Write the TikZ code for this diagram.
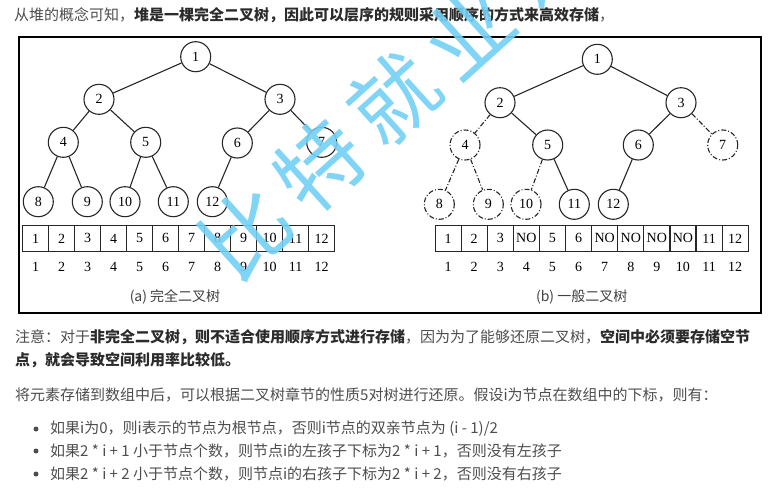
\documentclass[tikz,border=0pt]{standalone}
\usepackage{fontspec}
\setmainfont{Liberation Serif}
\newfontfamily\cjk{Noto Sans CJK SC}
\usetikzlibrary{positioning}

\definecolor{textgray}{HTML}{4D4D4D}
\definecolor{boldgray}{HTML}{2B2B2B}
\definecolor{markblue}{HTML}{72CFF5}
\newcommand{\negrita}[1]{\textbf{\color{boldgray}#1}}

\begin{document}
\begin{tikzpicture}[x=1pt, y=-1pt, font=\fontsize{14}{16}\selectfont]
    % --- Estilos ---
    \tikzset{
        treenode/.style={circle, draw=black!85, line width=1.1pt, minimum size=30pt, inner sep=0pt},
        ghostnode/.style={treenode, dash pattern=on 5pt off 2pt on 1pt off 2pt},
        edge/.style={draw=black!85, line width=1.1pt},
        ghostedge/.style={edge, dash pattern=on 5pt off 2pt on 1pt off 2pt},
        cell/.style={draw=black!85, line width=1.1pt, minimum width=26pt, minimum height=26.5pt, inner sep=0pt},
        idx/.style={inner sep=0pt},
        caption/.style={font=\cjk\fontsize{14}{16}\selectfont, text=black!75},
        para/.style={anchor=west, inner sep=0pt, font=\cjk\fontsize{15}{18}\selectfont, text=textgray},
        dot/.style={circle, fill=textgray, inner sep=0pt, minimum size=5pt},
        watermark/.style={font=\cjk\fontsize{86}{86}\selectfont, text=markblue, opacity=0.9, rotate=42}
    }
    \useasboundingbox (0,0) rectangle (771,499);
    \clip (0,0) rectangle (771,499);

    % --- Texto superior ---
    \node[para] (t1) at (14,15) {从堆的概念可知，\negrita{堆是一棵完全二叉树，因此可以层序的规则采用顺序的方式来高效存储}，};

    % --- Marco de la figura ---
    \draw[line width=1.2pt] (19,37) rectangle (761,313);

    % --- Árbol (a): completo ---
    \foreach \n/\x/\y in {1/195.7/56.7, 2/99/99.3, 3/280/99.3, 4/63.3/142.3, 5/145.7/142.3,
        6/237.3/143, 7/321.7/142.3, 8/38.3/201.7, 9/87.3/201.7, 10/125/201.7, 11/173.3/201.7, 12/212.3/201.7}
        \node[treenode] (a\n) at (\x,\y) {\n};
    \foreach \p/\c in {1/2, 1/3, 2/4, 2/5, 3/6, 3/7, 4/8, 4/9, 5/10, 5/11, 6/12}
        \draw[edge] (a\p) -- (a\c);

    % Arreglo (a) e índices
    \foreach \v [count=\i] in {1,...,12} {
        \node[cell] (ca\i) at ({9.7+26*\i}, 238.4) {\v};
        \node[idx, below=10pt of ca\i] {\i};
    }
    \node[caption] (capa) at (175,296.7) {(a) 完全二叉树};

    % --- Árbol (b): general ---
    \foreach \n/\x/\y/\s in {1/597.3/59.3/treenode, 2/500/102.7/treenode, 3/681/102.7/treenode,
        4/465/145/ghostnode, 5/547.7/145/treenode, 6/638.3/145/treenode, 7/722.7/145/ghostnode,
        8/439.3/204.3/ghostnode, 9/488.3/204.3/ghostnode, 10/526/204.3/ghostnode,
        11/574.3/204.3/treenode, 12/613.3/204.3/treenode}
        \node[\s] (b\n) at (\x,\y) {\n};
    \foreach \p/\c/\s in {1/2/edge, 1/3/edge, 2/4/ghostedge, 2/5/edge, 3/6/edge, 3/7/ghostedge,
        4/8/ghostedge, 4/9/ghostedge, 5/10/ghostedge, 5/11/edge, 6/12/edge}
        \draw[\s] (b\p) -- (b\c);

    % Arreglo (b) e índices
    \foreach \v [count=\i] in {1,2,3,NO,5,6,NO,NO,NO,NO,11,12} {
        \node[cell] (cb\i) at ({421.95+26.1*\i}, 238.4) {\v};
        \node[idx, below=10pt of cb\i] {\i};
    }
    \node[caption] (capb) at (581.7,296.7) {(b) 一般二叉树};

    % --- Texto inferior ---
    \node[para] (t2) at (15,337) {注意：对于\negrita{非完全二叉树，则不适合使用顺序方式进行存储}，因为为了能够还原二叉树，\negrita{空间中必须要存储空节}};
    \node[para] (t3) at (15,360) {\negrita{点，就会导致空间利用率比较低。}};
    \node[para] (t4) at (15,395) {将元素存储到数组中后，可以根据二叉树章节的性质5对树进行还原。假设i为节点在数组中的下标，则有：};

    % Viñetas
    \foreach \y/\txt in {429/{如果i为0，则i表示的节点为根节点，否则i节点的双亲节点为 (i - 1)/2},
        451/{如果2 * i + 1 小于节点个数，则节点i的左孩子下标为2 * i + 1，否则没有左孩子},
        474/{如果2 * i + 2 小于节点个数，则节点i的右孩子下标为2 * i + 2，否则没有右孩子}} {
        \node[dot] (d\y) at (36,\y) {};
        \node[para] (li\y) at (50,\y) {\txt};
    }

    % --- Marca de agua ---
    \foreach \ch [count=\k] in {比,特,就,业,课}
        \node[watermark] (w\k) at ({245+74.3*(\k-1)}, {232-66.9*(\k-1)}) {\ch};
\end{tikzpicture}
\end{document}
